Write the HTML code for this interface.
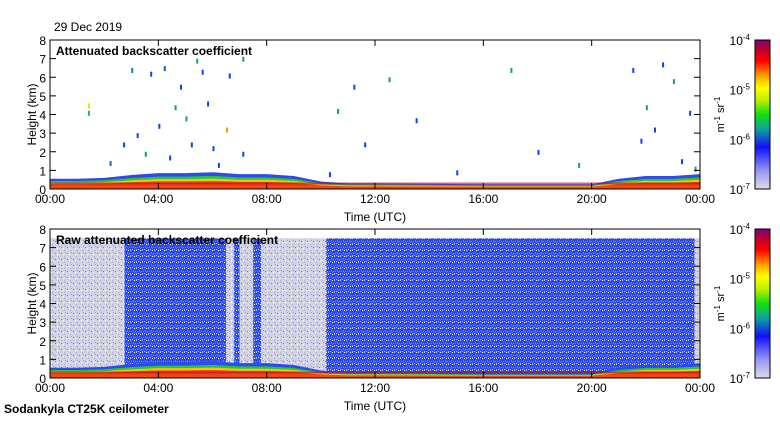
<!DOCTYPE html>
<html><head><meta charset="utf-8"><style>
body{margin:0;background:#fff;font-family:"Liberation Sans",sans-serif}
svg text{font-family:"Liberation Sans",sans-serif}
</style></head><body>
<svg id="c" width="780" height="420" xmlns="http://www.w3.org/2000/svg">
<defs>
<linearGradient id="cb" x1="0" y1="1" x2="0" y2="0">
<stop offset="0" stop-color="#dcdce8"/><stop offset="0.12" stop-color="#9898f0"/>
<stop offset="0.28" stop-color="#1010f8"/><stop offset="0.4" stop-color="#10a0a0"/>
<stop offset="0.5" stop-color="#10e010"/><stop offset="0.6" stop-color="#c0f000"/>
<stop offset="0.68" stop-color="#ffff00"/><stop offset="0.76" stop-color="#ffa000"/>
<stop offset="0.86" stop-color="#ff0000"/><stop offset="0.93" stop-color="#c00020"/>
<stop offset="1" stop-color="#800080"/></linearGradient>
<pattern id="spk" width="6" height="6" patternUnits="userSpaceOnUse">
<rect width="6" height="6" fill="#2848f0"/><rect x="1" y="0" width="1" height="2" fill="#20b090"/>
<rect x="4" y="3" width="1" height="2" fill="#b0b0f0"/><rect x="2" y="4" width="1" height="1" fill="#ffffff"/>
<rect x="5" y="1" width="1" height="1" fill="#8080f0"/><rect x="0" y="3" width="1" height="1" fill="#d0d0e8"/>
<rect x="3" y="1" width="1" height="1" fill="#30c080"/><rect x="2" y="2" width="1" height="1" fill="#6070f0"/></pattern>
<pattern id="lt" width="6" height="6" patternUnits="userSpaceOnUse">
<rect width="6" height="6" fill="#d4d4dc"/><rect x="1" y="1" width="1" height="1" fill="#7070f0"/>
<rect x="4" y="4" width="1" height="1" fill="#a0a0f0"/><rect x="3" y="2" width="1" height="1" fill="#ffffff"/>
<rect x="5" y="0" width="1" height="1" fill="#9090f0"/></pattern>
</defs>
<text x="54" y="31" font-size="12">29 Dec 2019</text>
<text x="4" y="413" font-size="12" font-weight="bold">Sodankyla CT25K ceilometer</text>
<g id="p1"></g>
<g id="p2"></g>
</svg>
<script>
const hours=[0,1,2,3,4,5,6,7,8,9,10,11,12,14,16,18,20,21,22,23,24];
const blh=[0.55,0.55,0.6,0.75,0.85,0.85,0.9,0.8,0.8,0.7,0.4,0.3,0.3,0.28,0.25,0.25,0.25,0.55,0.7,0.7,0.8];
const rawSegStart=[0,2.75,6.5,6.8,7.0,7.5,7.8,10.2,23.8];
const rawSegEnd=[2.75,6.5,6.8,7.0,7.5,7.8,10.2,23.8,24];
const rawSegType=['lt','spk','lt','spk','lt','spk','lt','spk','lt'];
const ptsH=[1.4,1.4,2.2,2.7,3.0,3.2,3.5,3.7,4.0,4.2,4.4,4.6,4.8,5.0,5.2,5.4,5.6,5.8,6.0,6.2,6.5,6.6,7.1,7.1,10.3,10.6,11.2,11.6,12.5,13.5,15.0,17.0,18.0,19.5,21.5,21.8,22.0,22.3,22.6,23.0,23.3,23.6,23.8];
const ptsK=[4.6,4.2,1.5,2.5,6.5,3.0,2.0,6.3,3.5,6.6,1.8,4.5,5.6,3.9,2.5,7.0,6.4,4.7,2.3,1.4,3.3,6.2,7.1,2.0,0.9,4.3,5.6,2.5,6.0,3.8,1.0,6.5,2.1,1.4,6.5,2.7,4.5,3.3,6.8,5.9,1.6,4.2,1.2];
const ptsC=['#f0e000','#10c060','#1060f0','#1040f0','#1080a0','#1040f0','#10a080','#1040f0','#1040f0','#1060c0','#1040f0','#10a080','#1040f0','#10a080','#1040f0','#10a080','#1040f0','#1040f0','#1040f0','#1040f0','#f0a000','#1040f0','#10a080','#1040f0','#1040f0','#10a080','#1040f0','#1040f0','#10a080','#1040f0','#1040f0','#10a080','#1040f0','#10a080','#1040f0','#1040f0','#10a080','#1040f0','#1040f0','#10a080','#1040f0','#1040f0','#10a080'];
const xTicks=['00:00','04:00','08:00','12:00','16:00','20:00','00:00'];
const yTicks=[0,1,2,3,4,5,6,7,8];
const cbLabels=['-4','-5','-6','-7'];
const NS='http://www.w3.org/2000/svg';
const X0=50,X1=700;
function mk(p,t,a){const e=document.createElementNS(NS,t);for(const k in a)e.setAttribute(k,a[k]);p.appendChild(e);return e;}
function panel(g,top,title,raw){
 const bot=top+149;const sx=h=>X0+(X1-X0)*h/24;const sy=k=>bot-(bot-top)*k/8;
 if(raw){for(let i=0;i<rawSegStart.length;i++){const r=mk(g,'rect',{x:sx(rawSegStart[i]),y:sy(7.5),width:sx(rawSegEnd[i])-sx(rawSegStart[i]),height:sy(0)-sy(7.5),fill:'url(#'+rawSegType[i]+')'});
 
 }}
 const bands=[[1,'#3048f0'],[0.78,'#20c840'],[0.62,'#f0c800'],[0.48,'#f04810']];
 for(const [f,col] of bands){let d='M'+sx(0)+','+sy(0);
  for(let i=0;i<hours.length;i++)d+=' L'+sx(hours[i])+','+sy(blh[i]*f);
  d+=' L'+sx(24)+','+sy(0)+' Z';
  const p=mk(g,'path',{d:d,fill:col});
  
  }
 const ln=mk(g,'rect',{x:sx(0),y:sy(0.35),width:sx(24)-sx(0),height:2,fill:'#c00030',opacity:0.6});
 
 
 if(!raw){for(let i=0;i<ptsH.length;i++){const r=mk(g,'rect',{x:sx(ptsH[i]),y:sy(ptsK[i]),width:2,height:5,fill:ptsC[i]});
  
  }}
 mk(g,'rect',{x:X0,y:top,width:X1-X0,height:bot-top,fill:'none',stroke:'#000','stroke-width':1});
 xTicks.forEach((t,i)=>{const x=sx(i*4);mk(g,'line',{x1:x,y1:bot,x2:x,y2:bot-6,stroke:'#000'});mk(g,'line',{x1:x,y1:top,x2:x,y2:top+6,stroke:'#000'});
  const tx=mk(g,'text',{x:x,y:bot+14,'font-size':12,'text-anchor':'middle'});tx.textContent=t;
  
  });
 yTicks.forEach(k=>{const y=sy(k);mk(g,'line',{x1:X0,y1:y,x2:X0+6,y2:y,stroke:'#000'});mk(g,'line',{x1:X1,y1:y,x2:X1-6,y2:y,stroke:'#000'});
  const tx=mk(g,'text',{x:X0-4,y:y+5,'font-size':12,'text-anchor':'end'});tx.textContent=k;
  
  });
 const tt=mk(g,'text',{x:56,y:top+15,'font-size':12,'font-weight':'bold'});tt.textContent=title;
 
 
 const yt=mk(g,'text',{x:36,y:(top+bot)/2,'font-size':12,'text-anchor':'middle',transform:'rotate(-90 36 '+(top+bot)/2+')'});yt.textContent='Height (km)';
 
 
 const xt=mk(g,'text',{x:375,y:bot+32,'font-size':12,'text-anchor':'middle'});xt.textContent='Time (UTC)';
 
 
 const cb=mk(g,'rect',{x:755,y:top,width:15,height:149,fill:'url(#cb)',stroke:'#000'});
 
 
 cbLabels.forEach((e,i)=>{const t=mk(g,'text',{x:750,y:top+5+i*149/3,'font-size':12,'text-anchor':'end'});t.innerHTML='10<tspan dy="-5" font-size="8">'+e+'</tspan>';
  
  });
 const ut=mk(g,'text',{x:724,y:(top+bot)/2,'font-size':11,'text-anchor':'middle',transform:'rotate(-90 724 '+(top+bot)/2+')'});
 ut.innerHTML='m<tspan dy="-4" font-size="8">-1</tspan><tspan dy="4"> sr</tspan><tspan dy="-4" font-size="8">-1</tspan>';
 
 
}
panel(document.getElementById('p1'),40,'Attenuated backscatter coefficient',false);
panel(document.getElementById('p2'),229,'Raw attenuated backscatter coefficient',true);
</script>
</body></html>
